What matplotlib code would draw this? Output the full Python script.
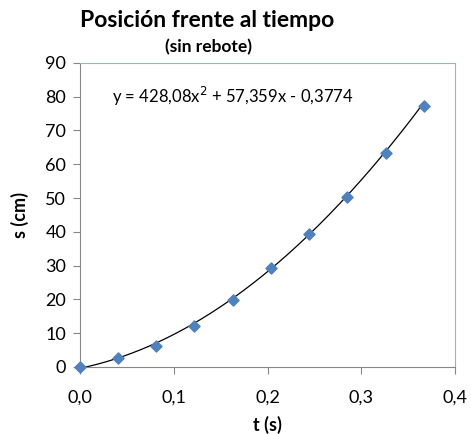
import numpy as np
import matplotlib.pyplot as plt

plt.rcParams['font.family'] = ['Lato', 'DejaVu Sans']

# data
t = [0.0, 0.041, 0.081, 0.122, 0.163, 0.204, 0.244, 0.285, 0.326, 0.367]
s = [0.0, 2.7, 6.2, 12.1, 19.8, 29.3, 39.4, 50.3, 63.3, 77.3]
coef = [428.08, 57.359, -0.3774]
xticks = [0.0, 0.1, 0.2, 0.3, 0.4]
yticks = [0, 10, 20, 30, 40, 50, 60, 70, 80, 90]

fig = plt.figure(figsize=(4.71, 4.34), dpi=100)
ax = fig.add_axes([0.170, 0.1544, 0.796, 0.7006])

tt = np.linspace(min(t), max(t), 200)
ax.plot(tt, np.polyval(coef, tt), color='black', lw=0.9, zorder=2)
ax.scatter(t, s, marker='D', s=32, color='#4F81BD', edgecolors='#4F81BD', zorder=3, clip_on=False)

ax.set_xlim(0, 0.4)
ax.set_ylim(0, 90)
ax.set_xticks(xticks)
ax.set_yticks(yticks)
ax.set_xticklabels([('%.1f' % v).replace('.', ',') for v in xticks])
ax.set_yticklabels([str(v) for v in yticks])
ax.tick_params(axis='both', labelsize=13, color='#868686', length=5, direction='out')
ax.tick_params(axis='x', pad=11)
ax.tick_params(axis='y', pad=5)

for side in ['left', 'bottom']:
    ax.spines[side].set_color('#868686')
for side in ['top', 'right']:
    ax.spines[side].set_color('#95B3D7')

ax.set_xlabel('t (s)', fontsize=13, fontweight='bold', labelpad=8)
ax.set_ylabel('s (cm)', fontsize=13, fontweight='bold', labelpad=12)

ax.text(0.163, 80.2, 'y = 428,08x$^{2}$ + 57,359x - 0,3774', fontsize=12, ha='center', va='center')

fig.text(0.44, 0.952, 'Posición frente al tiempo', fontsize=16.5, fontweight='bold', ha='center', va='center')
fig.text(0.442, 0.891, '(sin rebote)', fontsize=12.5, fontweight='bold', ha='center', va='center')

fig.savefig('out.png', dpi=100)
